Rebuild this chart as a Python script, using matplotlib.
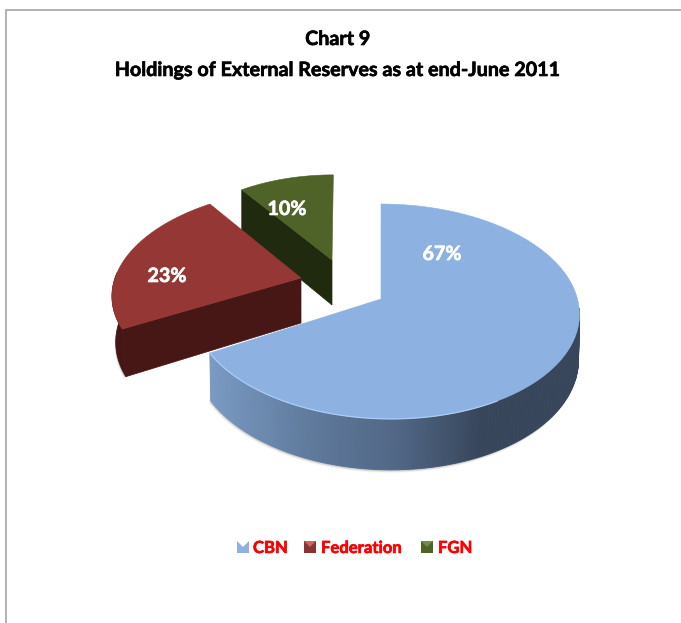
#!/usr/bin/env python3

'''
Chart 9: pie with a fake 3D look, all three slices built from their shares.
Axes run in pixels of the 681x623 picture, y pointing down.
'''

import numpy as np
import matplotlib
matplotlib.use('Agg')
import matplotlib.pyplot as plt
import matplotlib.patheffects as pe
from matplotlib.patches import Polygon, Rectangle

title_lines = ['Chart 9', 'Holdings of External Reserves as at end-June 2011']
names = ['CBN', 'Federation', 'FGN']
shares = [67, 23, 10]

top_cols = ['#8db2e2', '#953735', '#4f6228']
face_cols = ['#5a7394', '#471716', '#1f2a0e']

# rim centre x, y, radius x, radius y, shear, shrink of lower rim, apex x
geo = [(385.5, 299, 192, 106, -5, 0.995, 381),
       (301, 278, 186, 100, 12, 0.98, 301),
       (332, 260, 170, 95, 1.5, 1.0, 332)]
depth = 45
persp = 0.116


def rim(th, g, lower=False):
    t = np.radians(th)
    u, v = np.cos(t), np.sin(t)
    den = 1 + persp * v
    sx = g[5] if lower else 1
    x = g[0] + sx * (g[2] * u + g[4] * v) / den
    y = g[1] - g[3] * v / den
    if lower:
        y = y + depth / den
    return np.column_stack([x, y])


def apex(g, lower=False):
    return np.array([[g[6], g[1] + (depth if lower else 0)]])


def blue_shade(x):
    r = np.interp(x, [210, 300, 400, 480, 579], [122, 98, 80, 56, 56])
    g = np.interp(x, [210, 300, 400, 480, 579], [155, 125, 102, 70, 70])
    b = np.interp(x, [210, 300, 400, 480, 579], [196, 160, 132, 92, 92])
    return (r / 255, g / 255, b / 255)


def heavy(col):
    # Lato bold is lighter than the font of the original
    return [pe.withStroke(linewidth=0.45, foreground=col)]


fig = plt.figure(figsize=(6.81, 6.23), dpi=100)
ax = fig.add_axes([0, 0, 1, 1])
ax.set_xlim(0, 681)
ax.set_ylim(623, 0)
ax.axis('off')

# frame, only top and left show up
ax.plot([5.5, 5.5, 681], [623, 9.5, 9.5], color='#a6a6a6', lw=1.2)

# slice angles, clockwise from 12 o'clock
ends = 90 - 3.6 * np.cumsum(shares)
starts = np.r_[90, ends[:-1]]
spans = [np.linspace(s, e, 120) for s, e in zip(starts, ends)]

# angles of the outer wall that faces the viewer
walls = [np.linspace(ends[0], -5, 130), np.linspace(starts[1], starts[1] - 32, 40), None]

# green first, blue last so that the nearer slice covers the others
for i in [2, 1, 0]:
    g = geo[i]
    top = np.vstack([apex(g), rim(spans[i], g)])
    th = walls[i]

    # soft shadow under the wall
    if th is not None:
        low = rim(th, g, True)
        upp = rim(th, g)
        for off, al in [(3, 0.06), (2, 0.12), (1, 0.2)]:
            ax.add_patch(Polygon(np.vstack([upp, low[::-1] + [-off * 0.4, off]]),
                                 fc='#404040', ec='none', alpha=al))

    # cut face seen from the front
    if i > 0:
        s = np.array([starts[i]])
        ax.add_patch(Polygon(np.vstack([apex(g), rim(s, g), rim(s, g, True), apex(g, True)]),
                             fc=face_cols[i], ec=face_cols[i], lw=0.5))

    # outer wall
    if i == 0:
        for a, b in zip(th[:-1], th[1:]):
            q = np.array([a, b])
            pts = np.vstack([rim(q, g), rim(q, g, True)[::-1]])
            col = blue_shade(pts[:, 0].mean())
            ax.add_patch(Polygon(pts, fc=col, ec=col, lw=0.6))
    elif i == 1:
        pts = np.vstack([rim(th, g), rim(th, g, True)[::-1]])
        ax.add_patch(Polygon(pts, fc='#461614', ec='#461614', lw=0.5))

    ax.add_patch(Polygon(top, fc=top_cols[i], ec=top_cols[i], lw=0.4))

    if i == 0:
        front = rim(np.linspace(ends[0], -60, 80), g)
        ax.plot(front[:, 0], front[:, 1], color='#a9cdf7', lw=0.9)

# percent labels
label_xy = [(442, 254), (167, 276), (287, 209)]
for v, (x, y) in zip(shares, label_xy):
    ax.text(x, y, '%d%%' % v, color='white', family='Lato', weight='bold',
            fontsize=14.2, ha='center', va='center', path_effects=heavy('white'))

# title
ax.text(338, 39, title_lines[0], family='Lato', weight='bold', fontsize=14.2,
        ha='center', va='center', color='black', path_effects=heavy('black'))
ax.text(338, 70, title_lines[1], family='Lato', weight='bold', fontsize=14.2,
        ha='center', va='center', color='black', path_effects=heavy('black'))

# legend with small bevelled squares
key_x = [237, 304, 421]
text_x = [253, 321, 438]
key_dark = ['#8db2e2', '#8a3432', '#4f6228']
key_top = ['#ffffff', '#c06a68', '#768a50']
for n, kx, tx, c, ct in zip(names, key_x, text_x, key_dark, key_top):
    ax.add_patch(Rectangle((kx, 541), 12, 12, fc=c, ec='none'))
    ax.add_patch(Polygon([(kx, 541), (kx + 12, 541), (kx + 6, 547)],
                         fc=ct, ec='none'))
    ax.text(tx, 548, n, color='#ff0000', family='Lato', weight='bold',
            fontsize=12, ha='left', va='center', path_effects=heavy('#ff0000'))

plt.savefig('out.png', dpi=100)
